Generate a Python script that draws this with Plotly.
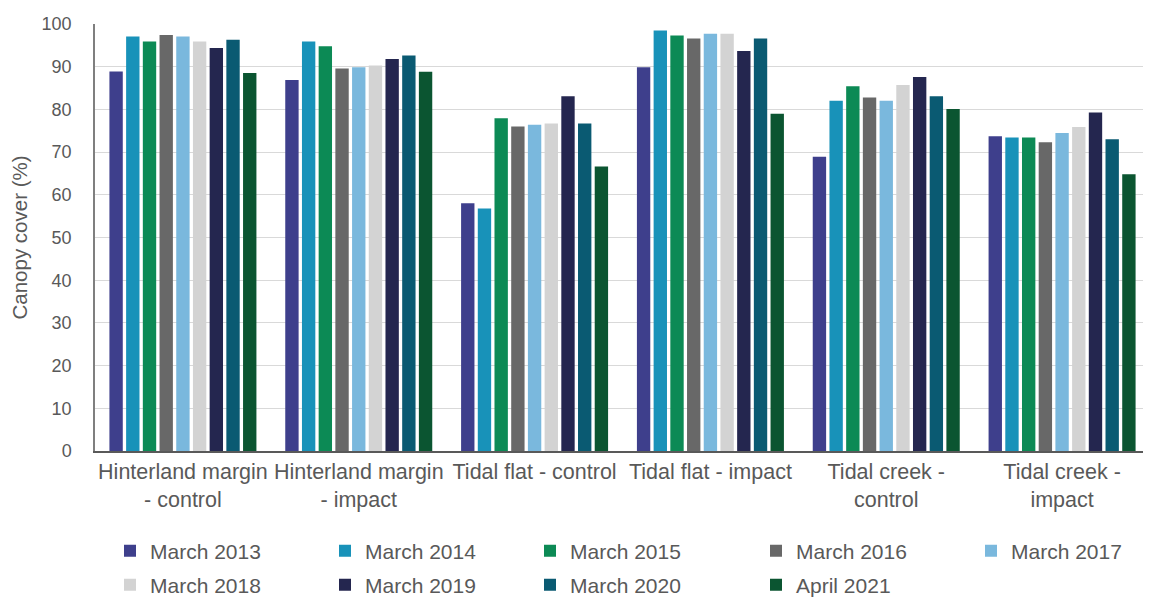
import plotly.graph_objects as go

CATEGORIES = [
    "Hinterland margin<br>- control",
    "Hinterland margin<br>- impact",
    "Tidal flat - control",
    "Tidal flat - impact",
    "Tidal creek -<br>control",
    "Tidal creek -<br>impact",
]

SURVEYS = [
    "March 2013", "March 2014", "March 2015", "March 2016", "March 2017",
    "March 2018", "March 2019", "March 2020", "April 2021",
]

# canopy cover (%) per survey, one value per category
MARCH_2013 = [88.9, 86.9, 58.0, 89.9, 68.9, 73.7]
MARCH_2014 = [97.1, 95.9, 56.8, 98.5, 82.0, 73.4]
MARCH_2015 = [95.9, 94.8, 77.9, 97.3, 85.4, 73.4]
MARCH_2016 = [97.4, 89.6, 76.0, 96.6, 82.8, 72.3]
MARCH_2017 = [97.1, 89.9, 76.4, 97.7, 82.0, 74.5]
MARCH_2018 = [95.9, 90.3, 76.7, 97.7, 85.7, 75.9]
MARCH_2019 = [94.4, 91.8, 83.1, 93.7, 87.6, 79.3]
MARCH_2020 = [96.3, 92.6, 76.7, 96.6, 83.1, 73.0]
APRIL_2021 = [88.5, 88.8, 66.6, 79.0, 80.1, 64.8]

SERIES = [MARCH_2013, MARCH_2014, MARCH_2015, MARCH_2016, MARCH_2017,
          MARCH_2018, MARCH_2019, MARCH_2020, APRIL_2021]

COLORS = ["#3e3f8c", "#1892b9", "#0c8a55", "#686868", "#7ab8dd",
          "#d3d3d3", "#24264f", "#0a5a72", "#0b5531"]

FONT = "Liberation Sans, Arial, sans-serif"
TEXT_GREY = "#595959"

# page body has an 8px margin, so the figure is shrunk to fit the window
W, H = 1143, 590
PAD = 8

# legend grid: 5 columns x 2 rows, left edge / row centre in page pixels
LEGEND_COLS = [110, 325, 530, 756, 971]
LEGEND_ROWS = [551, 585]

fig = go.Figure()
layout_legends = {}
for i, (name, vals) in enumerate(zip(SURVEYS, SERIES)):
    key = "legend" if i == 0 else f"legend{i + 1}"
    fig.add_trace(go.Bar(
        x=CATEGORIES,
        y=vals,
        name=name,
        marker=dict(color=COLORS[i], line=dict(width=0)),
        legend=key,
        showlegend=True,
    ))
    col, row = i % 5, i // 5
    layout_legends[key] = dict(
        orientation="h",
        xref="container",
        yref="container",
        xanchor="left",
        yanchor="middle",
        x=(LEGEND_COLS[col] - PAD) / W,
        y=1 - (LEGEND_ROWS[row] - PAD) / H,
        font=dict(family=FONT, size=21, color=TEXT_GREY),
        itemwidth=30,
        bgcolor="rgba(0,0,0,0)",
        visible=True,
    )

fig.update_layout(
    showlegend=True,
    barmode="group",
    bargap=0.145,
    bargroupgap=0.2,
    width=W,
    height=H,
    margin=dict(l=87, r=1, t=16, b=147, autoexpand=False),
    plot_bgcolor="white",
    paper_bgcolor="white",
    font=dict(family=FONT, size=18, color=TEXT_GREY),
    xaxis=dict(
        showline=True,
        linecolor="#595959",
        linewidth=1.5,
        tickfont=dict(family=FONT, size=21.5, color=TEXT_GREY),
        ticks="",
    ),
    yaxis=dict(
        range=[0, 100],
        dtick=10,
        showgrid=True,
        gridcolor="#d9d9d9",
        gridwidth=1,
        showline=True,
        linecolor="#7f7f7f",
        linewidth=1.5,
        zeroline=False,
        tickfont=dict(family=FONT, size=18, color=TEXT_GREY),
        ticks="",
        ticklabelstandoff=18,
        title=dict(text="Canopy cover (%)",
                   font=dict(family=FONT, size=20.5, color=TEXT_GREY),
                   standoff=12),
    ),
    **layout_legends,
)

fig.write_html("out.html")
